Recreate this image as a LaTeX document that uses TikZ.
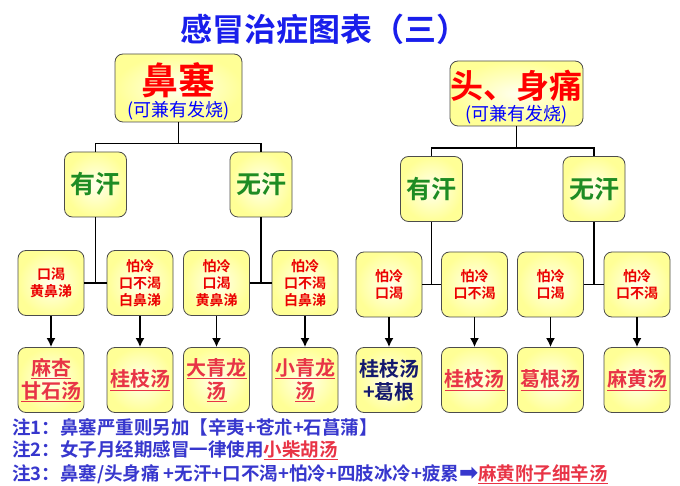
\documentclass[tikz,border=0pt]{standalone}
\usepackage{fontspec}
\setmainfont{Noto Sans CJK SC}[BoldFont={Noto Sans CJK SC Bold}]
\newfontfamily\arrowfont{DejaVu Sans}[BoldFont={DejaVu Sans Bold}]
\usetikzlibrary{arrows.meta}

\definecolor{titleblue}{RGB}{25,30,235}
\definecolor{noteblue}{RGB}{55,55,205}
\definecolor{symred}{RGB}{235,0,0}
\definecolor{herbred}{RGB}{232,52,70}
\definecolor{sweatgreen}{RGB}{30,140,35}
\definecolor{herbnavy}{RGB}{20,25,110}
\definecolor{boxin}{RGB}{255,255,238}
\definecolor{boxout}{RGB}{255,255,150}

\tikzset{
  yellowbox/.style={draw=black!70, line width=0.8pt, rounded corners=8pt,
    inner color=boxin, outer color=boxout, inner sep=0pt},
  sweatbox/.style={yellowbox, minimum width=62pt, minimum height=65pt,
    text=sweatgreen, font=\fontsize{25}{28}\selectfont\bfseries},
  symbox/.style={yellowbox, minimum width=66pt, minimum height=65pt,
    text=symred, align=center, font=\fontsize{14}{17}\selectfont\bfseries},
  herbbox/.style={yellowbox, minimum width=66pt, minimum height=65pt,
    text=herbred, align=center, font=\fontsize{20}{23}\selectfont\bfseries},
  notetext/.style={anchor=west, inner sep=0pt, text=noteblue,
    font=\fontsize{18.5}{20}\selectfont\bfseries},
  feverline/.style={text=blue, font=\fontsize{18}{20}\selectfont},
  link/.style={line width=1.6pt},
  arrowlink/.style={line width=1.6pt, -{Latex[length=9pt,width=9pt]}}
}

\begin{document}
\begin{tikzpicture}[x=1pt,y=-1pt]
\useasboundingbox (0,0) rectangle (680,486);

\node[text=titleblue, font=\fontsize{32}{36}\selectfont\bfseries] (title) at (324,29) {感冒治症图表（三）};

% -- level 1
\node[yellowbox, minimum width=127pt, minimum height=68pt] (nasal) at (178.5,88) {};
\node[text=red, font=\fontsize{37}{40}\selectfont\bfseries] (nasaltitle) at (178.5,80) {鼻塞};
\node[feverline] (nasalnote) at (178.5,111) {(可兼有发烧)};

\node[yellowbox, minimum width=133pt, minimum height=65pt] (head) at (516.5,93.5) {};
\node[text=red, font=\fontsize{33}{36}\selectfont\bfseries] (headtitle) at (516.5,86) {头、身痛};
\node[feverline] (headnote) at (516.5,115) {(可兼有发烧)};

% -- level 2
\node[sweatbox] (nasalyes) at (95.5,184.5) {有汗};
\node[sweatbox] (nasalno) at (261,184.5) {无汗};
\node[sweatbox] (headyes) at (431.5,189) {有汗};
\node[sweatbox] (headno) at (594,189) {无汗};

% -- level 3
\node[symbox] (syma) at (51,283) {口渴\\黄鼻涕};
\node[symbox] (symb) at (140,283) {怕冷\\口不渴\\白鼻涕};
\node[symbox] (symc) at (216.5,283) {怕冷\\口渴\\黄鼻涕};
\node[symbox] (symd) at (305,283) {怕冷\\口不渴\\白鼻涕};
\node[symbox] (syme) at (389,284.5) {怕冷\\口渴};
\node[symbox] (symf) at (474.5,284.5) {怕冷\\口不渴};
\node[symbox] (symg) at (550.5,284.5) {怕冷\\口渴};
\node[symbox] (symh) at (637,284.5) {怕冷\\口不渴};

% -- level 4
\node[herbbox] (herba) at (51,380) {\underline{麻杏}\\\underline{甘石汤}};
\node[herbbox] (herbb) at (140,380) {\underline{桂枝汤}};
\node[herbbox] (herbc) at (216.5,380) {\underline{大青龙}\\\underline{汤}};
\node[herbbox] (herbd) at (305,380) {\underline{小青龙}\\\underline{汤}};
\node[herbbox, text=herbnavy] (herbe) at (389,380) {桂枝汤\\+葛根};
\node[herbbox] (herbf) at (474.5,380) {\underline{桂枝汤}};
\node[herbbox] (herbg) at (550.5,380) {\underline{葛根汤}};
\node[herbbox] (herbh) at (637,380) {\underline{麻黄汤}};

% -- draw links
\coordinate (nasalfork) at (178.5,143.5);
\coordinate (headfork) at (516.5,148);
\draw[link] (nasal.south) -- (nasalfork);
\draw[link] (nasalyes.north) |- (nasalfork) -| (nasalno.north);
\draw[link] (head.south) -- (headfork);
\draw[link] (headyes.north) |- (headfork) -| (headno.north);

\draw[link] (nasalyes.south) -- (nasalyes.south |- syma.east);
\draw[link] (syma.east) -- (symb.west);
\draw[link] (nasalno.south) -- (nasalno.south |- symc.east);
\draw[link] (symc.east) -- (symd.west);
\draw[link] (headyes.south) -- (headyes.south |- syme.east);
\draw[link] (syme.east) -- (symf.west);
\draw[link] (headno.south) -- (headno.south |- symg.east);
\draw[link] (symg.east) -- (symh.west);

% -- draw arrows
\draw[arrowlink] (syma.south) -- (herba.north);
\draw[arrowlink] (symb.south) -- (herbb.north);
\draw[arrowlink] (symc.south) -- (herbc.north);
\draw[arrowlink] (symd.south) -- (herbd.north);
\draw[arrowlink] (syme.south) -- (herbe.north);
\draw[arrowlink] (symf.south) -- (herbf.north);
\draw[arrowlink] (symg.south) -- (herbg.north);
\draw[arrowlink] (symh.south) -- (herbh.north);

% -- notes
\node[notetext] (note1) at (12,427) {注1：鼻塞严重则另加【辛夷+苍朮+石菖蒲】};
\node[notetext] (note2) at (12,450) {注2：女子月经期感冒一律使用\textcolor{herbred}{\underline{小柴胡汤}}};
\node[notetext] (note3) at (12,474) {注3：鼻塞/头身痛 +无汗+口不渴+怕冷+四肢冰冷+疲累{\arrowfont\bfseries\fontsize{23}{23}\selectfont ➡}\textcolor{herbred}{\underline{麻黄附子细辛汤}}};
\end{tikzpicture}
\end{document}
